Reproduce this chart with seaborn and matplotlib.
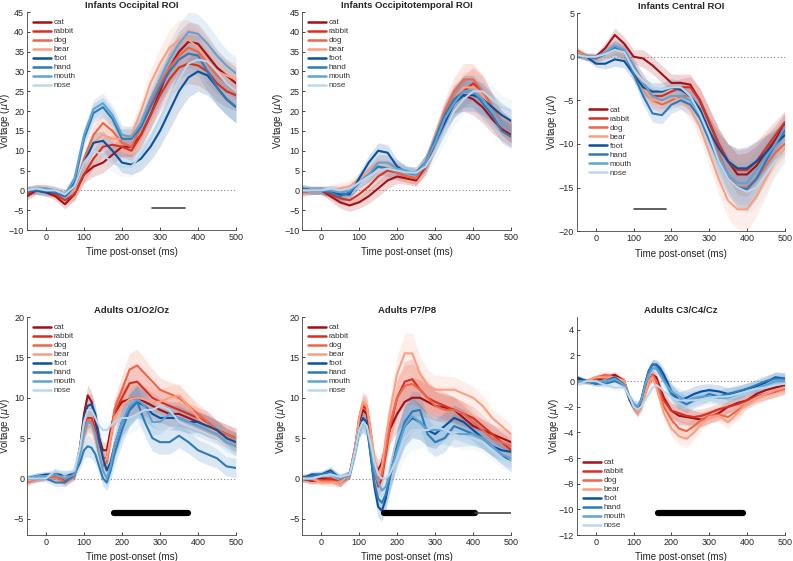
import numpy as np
import matplotlib
matplotlib.use("Agg")
import matplotlib.pyplot as plt
import seaborn as sns

# conditions and colours
conditions = ["cat", "rabbit", "dog", "bear", "foot", "hand", "mouth", "nose"]
colors = ["#a50f15", "#d7301f", "#ef6548", "#fc9f80",
          "#08519c", "#2b7bba", "#5fa3d3", "#bcd7ec"]

# time axes (ms)
t_inf = [-50, -25, 0, 25, 50, 75, 100, 125, 150, 175, 200, 225, 250, 275,
         300, 325, 350, 375, 400, 425, 450, 475, 500]
t_adu = [-50, -25, 0, 25, 50, 75, 90, 100, 110, 120, 130, 140, 150, 160, 170,
         180, 200, 220, 240, 260, 280, 300, 325, 350, 375, 400, 425, 450, 475, 500]

# Infants occipital ROI
inf_occ = {
    "cat":    [-1.5, 0, -0.5, -1.5, -3.5, -1, 4, 6, 7, 9, 11, 11, 14, 19, 25, 31, 35, 37.5, 37, 34, 31, 29, 27],
    "rabbit": [-1, 0.5, 0, -1, -2.5, -1, 4, 8, 11, 11.5, 11, 10, 14, 19, 24, 28, 31, 32, 31.5, 30, 27, 25, 24],
    "dog":    [0, 0.5, 0.5, 0, -1, 0, 8, 14, 17, 15, 12, 11, 16, 22, 27, 31, 34, 36, 35, 32, 29, 27, 25],
    "bear":   [0, 0.5, 0.5, 0, -1, 0, 7, 12, 14, 13, 13, 14, 20, 27, 32, 36, 38, 38, 36, 33, 30, 29, 28],
    "foot":   [0, 0, -0.5, -0.5, -1.5, 1, 7, 12, 12.5, 10, 7, 6.5, 8, 11, 15, 20, 25, 28.5, 30, 29, 26, 23, 21],
    "hand":   [0, 0, 0, -0.5, -1.5, 2, 13, 19.5, 21, 18, 13, 13, 16, 21, 26, 30, 33, 34.5, 34, 30, 26, 23, 21],
    "mouth":  [0, 0.5, 0.5, 0, -1, 3, 14, 20.5, 22, 19, 14, 13.5, 17, 23, 28, 33, 37, 40, 39.5, 37, 34, 31.5, 29.5],
    "nose":   [0, 0.5, 0, 0, -1, 1, 7, 10, 9, 7, 6, 6, 9, 13, 18, 23, 28, 32, 33, 32.5, 30, 27, 25],
}
inf_occ_sem = [1, 1, 1, 1, 1.2, 1.5, 2, 2.5, 2.5, 2.5, 2.5, 2.5, 3, 3.5, 4, 4.5, 5, 5, 5, 5, 4.5, 4, 4]

# Infants occipitotemporal ROI
inf_ot = {
    "cat":    [0, 0, 0, -1.5, -3, -3.8, -3, -1.5, 0.5, 2.5, 3.5, 3, 2.5, 6, 13, 19, 23, 24, 23, 21, 18, 15.5, 14],
    "rabbit": [-0.5, 0, 0, -1, -2, -2.5, -1, 1, 3.5, 5, 4.5, 3.5, 3, 6, 12, 18, 22, 25, 27, 25, 21, 17, 15],
    "dog":    [-0.5, 0, 0, 0, -0.5, 0, 2, 4, 6, 5.5, 4.5, 3.5, 3, 7, 13, 20, 25, 28, 28, 25, 21, 17, 15],
    "bear":   [0, 0, 0, 0, 0.5, 1, 3, 5, 7, 7, 6, 4.5, 4, 7, 13, 19, 23, 26, 26, 24, 20, 17, 15],
    "foot":   [0.5, 0, 0, -0.5, -1, -1, 3, 7, 10, 9.5, 6, 4.5, 4.5, 7, 12, 17, 22, 24, 24, 23, 21, 19, 17.5],
    "hand":   [0.5, 0, 0, -0.5, -1.5, -0.5, 2, 4, 6, 5.5, 5, 4.5, 4, 7, 13, 19, 23, 25, 25, 22, 19, 15, 13.5],
    "mouth":  [0, 0, 0, 0, -0.5, 0, 2, 4, 7, 7, 5.5, 5, 4, 7, 12, 18, 22, 25, 25, 23, 20, 17, 15],
    "nose":   [0, 0, 0, 0.5, 0, 0.5, 2, 3.5, 5, 5.5, 5, 4.5, 4.5, 6, 10, 15, 20, 23, 25, 25, 23, 21, 20],
}
inf_ot_sem = [1, 1, 1, 1.2, 1.5, 1.5, 1.5, 1.8, 2, 2, 1.8, 1.5, 1.5, 2, 2.5, 3, 3.5, 4, 4, 4, 3.5, 3, 3]

# Infants central ROI
inf_cen = {
    "cat":    [0.5, 0, 0, 1, 2.5, 1.5, 0, -0.2, -1, -2, -3, -3, -3.2, -5, -7.5, -10, -12, -13.5, -13.5, -12.5, -11, -9.5, -7.7],
    "rabbit": [0.3, 0, 0, 0.5, 1, 0.5, -1, -3, -4.5, -4.5, -4, -3.5, -3.5, -5, -7.5, -10, -12, -13, -13, -12, -10.5, -9, -7.5],
    "dog":    [0.8, 0, -0.3, 0.5, 1, 0.5, -1.5, -3.5, -5, -5.5, -5, -4.5, -4.5, -6, -8.5, -11, -13.5, -15, -15, -14, -12.5, -11, -10],
    "bear":   [0.5, 0, -0.3, 0.3, 0.8, 0.3, -1.5, -3.5, -5, -5, -4.5, -5, -6, -8, -11, -14, -16.5, -17.5, -17.5, -16, -14, -12, -10.5],
    "foot":   [0.3, 0, -0.8, -0.8, -0.3, -0.5, -2, -3.5, -4, -4, -3.5, -3.8, -4.5, -6, -8.5, -10.5, -12, -12.8, -12.8, -12, -11, -10, -9],
    "hand":   [0.2, 0, -0.2, 0.3, 1, 0.5, -2, -4.5, -6.5, -6.7, -5.5, -5, -5.5, -7, -9.5, -12, -14, -15, -15.2, -14, -12, -10, -8.5],
    "mouth":  [0.3, 0, 0, 0.5, 1.3, 0.8, -1, -3, -4.5, -5, -4.5, -4.5, -5, -6.5, -9, -11.5, -13.5, -14.5, -14.5, -13, -11.5, -10, -8],
    "nose":   [0.2, 0, 0, 0.3, 0.8, 0.5, -1.5, -2.8, -3.5, -3.8, -3.5, -3.5, -4.5, -6.5, -9, -12, -14, -15, -15.5, -15, -13.5, -12, -11],
}
inf_cen_sem = [0.4, 0.4, 0.4, 0.6, 0.8, 0.8, 0.8, 1, 1, 1, 1, 1, 1.2, 1.4, 1.6, 1.8, 2, 2.3, 2.5, 2.3, 2, 1.6, 1.3]

# Adults O1/O2/Oz
adu_occ = {
    "cat":    [-0.3, 0, 0.3, 0.3, 0, 0.5, 4, 8, 10.3, 9.5, 7, 5, 3.5, 3.5, 6, 8, 9.5, 9.8, 10, 9.5, 9, 8.5, 8, 8, 7.5, 7, 6.5, 6, 5.5, 5],
    "rabbit": [-0.3, 0, 0.2, 0.3, -0.3, 0.3, 3.5, 6, 7.5, 7.5, 6, 4, 2.5, 2.5, 5, 8, 10, 11.8, 12, 11, 10, 9.5, 9, 8.5, 8, 7.5, 7, 6, 5, 4.5],
    "dog":    [-0.5, 0, 0.2, 0.3, -0.5, 0.3, 3.5, 6, 7.3, 7, 5, 3, 1.5, 2, 5, 8.5, 11, 13.5, 14, 13, 12, 11, 10.5, 10, 9, 8, 7, 6, 5.5, 5],
    "bear":   [-0.3, 0, 0.2, 0.5, 0, 0.5, 3, 5, 6.5, 6.5, 5, 3.5, 2, 2.5, 5, 7.5, 9, 9.8, 10, 9.8, 9.5, 9.5, 10, 10.3, 9, 7.5, 6.5, 5.5, 5, 4.5],
    "foot":   [0, 0.3, 0.5, 0.5, 0.5, 0.5, 4, 7.5, 9, 9.2, 8, 5, 2.5, 1, 2, 4, 7, 8.5, 9.5, 9, 8, 7.5, 7.5, 7.5, 7, 7, 6.5, 6, 5, 4.5],
    "hand":   [0, 0, 0, -0.5, -0.5, 0.5, 2, 3.5, 4, 3.8, 3, 1.5, 0, -0.5, 1, 3, 6, 8.5, 9.5, 7, 5, 4.5, 4.5, 5.3, 4.5, 3.5, 3, 2.5, 1.5, 1.3],
    "mouth":  [0, 0.3, 0.3, 0.5, 0, 0.5, 3, 5.5, 7, 6.8, 5.5, 3, 1, 0, 1.5, 4, 7, 9, 9.8, 9, 7, 7, 8, 7.5, 7, 6.5, 6, 5.5, 4.5, 4],
    "nose":   [0, 0, 0, 1, 0.5, 1, 4, 7, 8.5, 8.5, 7.5, 6.5, 6, 6, 6.5, 7, 7.5, 7.5, 8, 8.5, 8.5, 9, 8.5, 7, 6.5, 6, 5.5, 5, 4, 3],
}
adu_occ_sem = [0.4, 0.4, 0.4, 0.5, 0.5, 0.5, 0.8, 1, 1.3, 1.3, 1.2, 1, 1, 1, 1.2, 1.5, 1.8, 2, 2, 1.8, 1.6, 1.5, 1.5, 1.5, 1.4, 1.3, 1.3, 1.2, 1.2, 1.2]

# Adults P7/P8
adu_p78 = {
    "cat":    [0, -0.3, 0, 0, -0.5, 0.5, 4, 7, 8.5, 8, 5, 2, 1, 2, 4, 6, 8, 9.5, 10, 10, 9.5, 9, 8.8, 8.5, 7.5, 6.5, 6, 5.5, 5, 4.5],
    "rabbit": [0, -0.3, -0.3, 0, -0.5, 0.5, 4, 7.5, 9, 8.5, 5, 1, -1, 0, 3, 6, 10, 12, 12.3, 11, 10, 9.5, 9, 8.5, 8, 7.5, 6.5, 5.5, 4.5, 3.5],
    "dog":    [0.3, 0, -0.3, -0.3, -0.5, 0.5, 4, 7.5, 9.3, 9, 6, 2, 0, 0.5, 3.5, 6.5, 10, 11.5, 11.7, 11, 10, 9, 8.5, 8.5, 8, 7, 6, 5, 4.5, 4],
    "bear":   [0, 0, -0.5, -0.5, -0.5, 0.5, 4, 7.5, 9.5, 9, 6, 2.5, 0.5, 1.5, 5, 8, 13, 15.5, 15.5, 13, 11.5, 11, 11, 11, 10.5, 10, 9, 7.5, 6.5, 5.5],
    "foot":   [0, 0.5, 0.5, 1, 0, 0.5, 3.5, 6, 7.5, 7, 3, -1, -3.5, -4, -2.5, 0, 4, 6.5, 7.5, 7, 6, 5.5, 6.5, 7.5, 7, 6, 5, 4, 3.5, 3.3],
    "hand":   [0, 0.3, 0.5, 0.8, 0, 0.5, 3.5, 6, 7, 6.5, 3, -0.5, -2.5, -3, -2, 0, 4, 7, 8.3, 8.5, 5.5, 4.5, 5, 6.5, 6, 5.5, 5, 4, 3, 2],
    "mouth":  [0, 0, 0.3, 0.5, 0, 0.5, 3.5, 6, 7, 6.5, 4, 1, -0.5, -1.5, -1, 0.5, 3.5, 6.5, 7.7, 7, 6, 6, 6, 5.5, 5.5, 5.5, 5, 4, 3, 2.5],
    "nose":   [0, 0, 0.3, 0.5, 0.2, 0.5, 3.5, 6, 7, 6.5, 4.5, 2, 0.5, 0, 0, 0.5, 2.5, 5, 6, 6, 6, 6.5, 6, 5.5, 5, 5, 4.5, 3.5, 2.5, 2],
}
adu_p78_sem = [0.4, 0.4, 0.4, 0.5, 0.5, 0.5, 0.8, 1, 1.3, 1.3, 1.2, 1.2, 1.3, 1.3, 1.5, 1.8, 2.2, 2.5, 2.5, 2.2, 2, 1.8, 1.7, 1.6, 1.5, 1.4, 1.3, 1.2, 1.2, 1.2]

# Adults C3/C4/Cz
adu_cen = {
    "cat":    [0.2, 0, 0, 0.3, 0.5, 0, -1.5, -2, -2.3, -1.8, -0.8, 0, 0.5, 0.3, -0.5, -1.3, -2.3, -2.7, -2.8, -2.9, -3, -2.8, -2.5, -2, -1.7, -1.5, -1, -0.7, -0.5, -0.3],
    "rabbit": [0, 0, 0.2, 0.3, 0.3, 0, -1.5, -2, -2.3, -1.8, -0.8, 0, 0.3, 0, -0.8, -1.5, -2.3, -2.5, -2.7, -2.8, -2.7, -2.5, -2.2, -2, -1.8, -1.5, -1.2, -1, -0.8, -0.5],
    "dog":    [0, 0, 0.3, 0.5, 0.3, 0, -1.5, -2, -2.4, -2, -1, 0, 0.5, 0, -1, -2, -3, -3.7, -3.9, -3.5, -3, -2.7, -2.6, -2.8, -2.3, -1.7, -1.3, -1, -0.8, -0.6],
    "bear":   [0, 0, 0.3, 0.3, 0.3, 0, -1.5, -2, -2.4, -2, -1, 0, 0.3, -0.5, -1.5, -2.5, -3.7, -4.3, -4.5, -4, -3.3, -2.8, -2.7, -3.2, -2.5, -1.7, -1.3, -1, -0.7, -0.5],
    "foot":   [0.3, 0, -0.2, 0, 0.3, -0.3, -1.5, -2, -2.2, -1.5, -0.3, 0.8, 1.3, 1.3, 1, 0.5, -0.8, -1.5, -1.3, -1, -0.8, -0.7, -0.8, -1, -0.9, -0.6, -0.4, -0.1, 0.3, 0.2],
    "hand":   [0, 0, -0.2, -0.2, 0, -0.3, -1.3, -1.8, -2, -1.5, -0.2, 0.8, 1.3, 1.2, 0.8, 0.2, -1, -1.5, -1.8, -1.5, -1.3, -1, -1.2, -1, -0.8, -0.6, -0.3, 0, 0.2, 0.2],
    "mouth":  [0, 0, 0, 0, 0.2, -0.3, -1.3, -1.8, -2, -1.5, -0.3, 0.5, 1, 1, 0.5, 0, -0.8, -1.2, -1.5, -1.3, -1.2, -1.2, -1.3, -1.3, -1, -0.8, -0.6, -0.3, 0, 0],
    "nose":   [-0.3, 0, 0, -0.3, -0.5, -0.5, -1.3, -2, -2.2, -2, -1.5, -1, -0.5, -0.3, -0.5, -0.8, -1.3, -1.5, -1.5, -1.5, -1.4, -1.3, -1.2, -1.2, -1, -0.8, -0.6, -0.5, -0.3, -0.2],
}
adu_cen_sem = [0.2, 0.2, 0.2, 0.25, 0.25, 0.25, 0.3, 0.35, 0.4, 0.4, 0.4, 0.4, 0.4, 0.4, 0.45, 0.5, 0.6, 0.65, 0.65, 0.6, 0.55, 0.5, 0.5, 0.5, 0.5, 0.45, 0.45, 0.45, 0.45, 0.45]

titles = ["Infants Occipital ROI", "Infants Occipitotemporal ROI", "Infants Central ROI",
          "Adults O1/O2/Oz", "Adults P7/P8", "Adults C3/C4/Cz"]
ylims = [(-10, 45), (-10, 45), (-20, 5), (-7, 20), (-7, 20), (-12, 5)]
yticks = [range(-10, 46, 5), range(-10, 46, 5), range(-20, 6, 5),
          range(-5, 21, 5), range(-5, 21, 5), range(-12, 5, 2)]

# significance bars: (start, end, y, thick)
sig_bars = [
    [(280, 365, -4.5, False)],
    [],
    [(100, 185, -17.5, False)],
    [(180, 375, -4.3, True)],
    [(165, 405, -4.3, True), (405, 500, -4.3, False)],
    [(165, 390, -10.3, True)],
]

sns.set_style("ticks")
plt.rcParams["font.family"] = ["Liberation Sans", "DejaVu Sans"]

fig = plt.figure(figsize=(7.93, 5.61), dpi=100)
positions = [
    (0.034, 0.590, 0.2636, 0.3886), (0.381, 0.590, 0.2636, 0.3886), (0.7276, 0.588, 0.262, 0.3886),
    (0.034, 0.0463, 0.2636, 0.3886), (0.381, 0.0463, 0.2636, 0.3886), (0.7276, 0.0463, 0.262, 0.3886),
]
ylabel_x = [-0.07, -0.081, -0.087, -0.072, -0.07, -0.077]
panels = [(t_inf, inf_occ, inf_occ_sem), (t_inf, inf_ot, inf_ot_sem), (t_inf, inf_cen, inf_cen_sem),
          (t_adu, adu_occ, adu_occ_sem), (t_adu, adu_p78, adu_p78_sem), (t_adu, adu_cen, adu_cen_sem)]

for i, (t, data, sem) in enumerate(panels):
    ax = fig.add_axes(positions[i])
    t = np.array(t)
    sem = np.array(sem)
    ax.axhline(0, color="#888888", lw=0.8, ls=(0, (1, 2)), zorder=0)
    for cond, col in zip(conditions, colors):
        y = np.array(data[cond])
        ax.fill_between(t, y - sem, y + sem, color=col, alpha=0.17, lw=0)
    for cond, col in zip(conditions, colors):
        sns.lineplot(x=t, y=data[cond], color=col, lw=1.5, label=cond, ax=ax)
    for (x0, x1, yb, thick) in sig_bars[i]:
        if thick:
            ax.plot([x0, x1], [yb, yb], color="black", lw=4.5, solid_capstyle="round")
        else:
            ax.plot([x0, x1], [yb, yb], color="#444444", lw=1.2)
    ax.set_xlim(-50, 500)
    ax.set_ylim(*ylims[i])
    ax.set_xticks(range(0, 501, 100))
    ax.set_yticks(list(yticks[i]))
    ax.tick_params(labelsize=6.5, length=2, width=0.6, direction="in", pad=2)
    ax.set_title(titles[i], fontsize=6.8, fontweight="bold", pad=3)
    ax.set_xlabel("Time post-onset (ms)", fontsize=7)
    ax.set_ylabel(r"Voltage ($\mu$V)", fontsize=7)
    ax.xaxis.set_label_coords(0.5, -0.08)
    ax.yaxis.set_label_coords(ylabel_x[i], 0.5)
    for s in ["left", "bottom"]:
        ax.spines[s].set_linewidth(0.6)
        ax.spines[s].set_color("#444444")
    sns.despine(ax=ax)
    if i == 2:
        loc, anchor = "upper left", (0.03, 0.60)
    elif i == 5:
        loc, anchor = "lower left", (0.0, 0.0)
    else:
        loc, anchor = "upper left", (0.0, 0.995)
    leg = ax.legend(loc=loc, bbox_to_anchor=anchor, fontsize=5.8, frameon=False,
                    labelspacing=0.17, handlelength=2.3, handletextpad=0.3,
                    borderaxespad=0.4, borderpad=0.3)
    for txt in leg.get_texts():
        txt.set_color("#333333")
    for h in leg.legend_handles:
        h.set_linewidth(1.8)

fig.savefig("out.png", dpi=100)
